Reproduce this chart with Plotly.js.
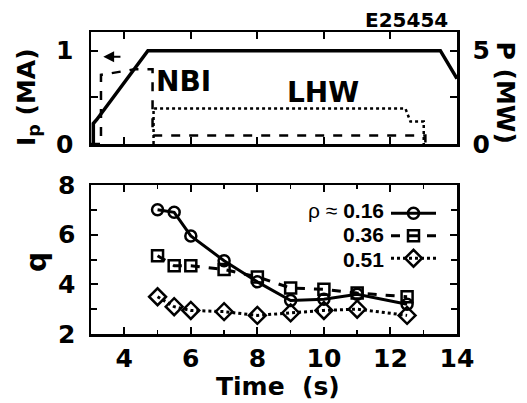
<!DOCTYPE html>
<html>
<head>
<meta charset="utf-8">
<script src="https://cdn.plot.ly/plotly-3.0.1.min.js"></script>
<style>html,body{margin:0;padding:0;background:#fff;}#chart{width:527px;height:403px;}</style>
</head>
<body>
<div id="chart"></div>
<script>
// ---- data ----
var qTime = [5, 5.5, 6, 7, 8, 9, 10, 11, 12.5];
var q016 = [7.0, 6.9, 5.95, 4.95, 4.1, 3.35, 3.4, 3.6, 3.2];
var q036 = [5.15, 4.75, 4.75, 4.6, 4.3, 3.85, 3.8, 3.65, 3.5];
var q051 = [3.5, 3.1, 2.95, 2.9, 2.75, 2.85, 2.95, 3.0, 2.75];
var rhoLabels = ['ρ ≈ <b>0.16</b>', '<b>0.36</b>', '<b>0.51</b>'];

var ipTime = [3.07, 3.07, 3.17, 4.71, 13.5, 14.0];
var ipCurrent = [0, 0.22, 0.26, 1.0, 1.0, 0.7];

var nbiTime = [3.0, 3.3, 3.3, 4.3, 4.85, 4.85, 13.05, 13.05];
var nbiPower = [0, 0, 3.7, 4.0, 4.0, 0.45, 0.45, 0];

var lhwTime = [4.88, 4.88, 12.45, 12.6, 13.0, 13.0];
var lhwPower = [0, 1.9, 1.9, 1.2, 1.2, 0];

var xTicks = [4, 6, 8, 10, 12, 14];
var qTicks = [2, 4, 6, 8];

// ---- geometry helpers (pixel -> paper) ----
var W = 527, H = 403, ML = 91, MR = 70, MT = 32, MB = 69;
var PW = W - ML - MR, PH = H - MT - MB;
function px(x) { return (x - ML) / PW; }
function py(y) { return (H - MB - y) / PH; }

var tickFont = {family: 'DejaVu Sans', size: 25, color: '#000', weight: 'bold'};
var bold = function (s) { return {family: 'DejaVu Sans', size: s, color: '#000', weight: 'bold'}; };
var legFont = {family: 'Liberation Sans', size: 21, color: '#000'};

var traces = [
  {x: qTime, y: q016, xaxis: 'x', yaxis: 'y', mode: 'lines+markers', name: ' ',
   line: {color: '#000', width: 3, dash: 'solid'},
   marker: {symbol: 'circle-open', size: 11, color: '#000', line: {width: 2.5, color: '#000'}}},
  {x: qTime, y: q036, xaxis: 'x', yaxis: 'y', mode: 'lines+markers', name: ' ',
   line: {color: '#000', width: 3, dash: 'dash'},
   marker: {symbol: 'square-open', size: 11, color: '#000', line: {width: 2.5, color: '#000'}}},
  {x: qTime, y: q051, xaxis: 'x', yaxis: 'y', mode: 'lines+markers', name: ' ',
   line: {color: '#000', width: 3, dash: 'dot'},
   marker: {symbol: 'diamond-open', size: 13, color: '#000', line: {width: 2.5, color: '#000'}}},
  {x: ipTime, y: ipCurrent, xaxis: 'x2', yaxis: 'y2', mode: 'lines', showlegend: false,
   line: {color: '#000', width: 3.5}},
  {x: nbiTime, y: nbiPower, xaxis: 'x2', yaxis: 'y3', mode: 'lines', showlegend: false,
   line: {color: '#000', width: 2.5, dash: 'dash'}},
  {x: lhwTime, y: lhwPower, xaxis: 'x2', yaxis: 'y3', mode: 'lines', showlegend: false,
   line: {color: '#000', width: 2.5, dash: 'dot'}}
];

var axBase = {showgrid: false, zeroline: false, showline: true, linecolor: '#000', linewidth: 2.5,
  ticks: 'inside', tickcolor: '#000', tickwidth: 2, ticklen: 7, tickfont: tickFont};

var layout = {
  width: W, height: H,
  margin: {l: ML, r: MR, t: MT, b: MB},
  paper_bgcolor: '#fff', plot_bgcolor: '#fff',
  showlegend: true,
  legend: {x: px(386), y: py(197), xanchor: 'left', yanchor: 'top', bgcolor: 'rgba(0,0,0,0)',
    font: {family: 'Liberation Sans', size: 15, color: '#000'}, itemwidth: 45, tracegroupgap: 0},
  xaxis: Object.assign({}, axBase, {domain: [0, 1], anchor: 'y', range: [3, 14], tickvals: xTicks,
    mirror: 'ticks', ticklabelstandoff: 0,
    minor: {dtick: 1, tick0: 3, ticks: 'inside', ticklen: 4, tickcolor: '#000', tickwidth: 1.5}}),
  yaxis: Object.assign({}, axBase, {domain: [0, py(185)], anchor: 'x', range: [2, 8], tickvals: qTicks,
    mirror: 'ticks', ticklabelstandoff: 8,
    minor: {dtick: 1, tick0: 2, ticks: 'inside', ticklen: 6, tickcolor: '#000', tickwidth: 2}}),
  xaxis2: Object.assign({}, axBase, {domain: [0, 1], anchor: 'y2', range: [3, 14], tickvals: xTicks,
    showticklabels: false, mirror: 'ticks'}),
  yaxis2: Object.assign({}, axBase, {domain: [py(144), 1], anchor: 'x2', range: [0, 1.2],
    tickvals: [0, 0.5, 1], ticktext: ['0', '', '1'], ticklabelstandoff: 10}),
  yaxis3: Object.assign({}, axBase, {domain: [py(144), 1], anchor: 'x2', overlaying: 'y2', side: 'right',
    range: [0, 6], tickvals: [0, 2.5, 5], ticktext: ['0', '', '5'], ticklabelstandoff: 8}),
  annotations: [
    {xref: 'paper', yref: 'paper', x: px(450), y: py(20), xanchor: 'right', yanchor: 'middle',
     text: 'E25454', showarrow: false, font: bold(20)},
    {xref: 'paper', yref: 'paper', x: px(183), y: py(82), xanchor: 'center', yanchor: 'middle',
     text: 'NBI', showarrow: false, font: bold(28)},
    {xref: 'paper', yref: 'paper', x: px(323), y: py(92.5), xanchor: 'center', yanchor: 'middle',
     text: 'LHW', showarrow: false, font: bold(28)},
    {xref: 'paper', yref: 'paper', x: px(28), y: py(97), xanchor: 'center', yanchor: 'middle',
     text: 'I<sub>p</sub> (MA)', textangle: -90, showarrow: false, font: bold(25)},
    {xref: 'paper', yref: 'paper', x: px(505), y: py(92.5), xanchor: 'center', yanchor: 'middle',
     text: 'P (MW)', textangle: 90, showarrow: false, font: bold(25)},
    {xref: 'paper', yref: 'paper', x: px(36), y: py(262), xanchor: 'center', yanchor: 'middle',
     text: 'q', textangle: -90, showarrow: false, font: bold(28)},
    {xref: 'paper', yref: 'paper', x: px(278), y: py(387), xanchor: 'center', yanchor: 'middle',
     text: 'Time\u00a0 (s)', showarrow: false, font: bold(25)},
    {xref: 'paper', yref: 'paper', x: px(385), y: py(210), xanchor: 'right', yanchor: 'middle',
     text: rhoLabels[0], showarrow: false, font: legFont, borderpad: 0},
    {xref: 'paper', yref: 'paper', x: px(385), y: py(234.5), xanchor: 'right', yanchor: 'middle',
     text: rhoLabels[1], showarrow: false, font: legFont, borderpad: 0},
    {xref: 'paper', yref: 'paper', x: px(385), y: py(259), xanchor: 'right', yanchor: 'middle',
     text: rhoLabels[2], showarrow: false, font: legFont, borderpad: 0},
    {xref: 'x2', yref: 'y2', x: 3.37, y: 0.935, axref: 'x2', ayref: 'y2', ax: 3.93, ay: 0.935,
     text: '', showarrow: true, arrowhead: 2, arrowsize: 1.2, arrowwidth: 1.8, arrowcolor: '#000'}
  ]
};

Plotly.newPlot('chart', traces, layout, {staticPlot: true, displayModeBar: false});
</script>
</body>
</html>
